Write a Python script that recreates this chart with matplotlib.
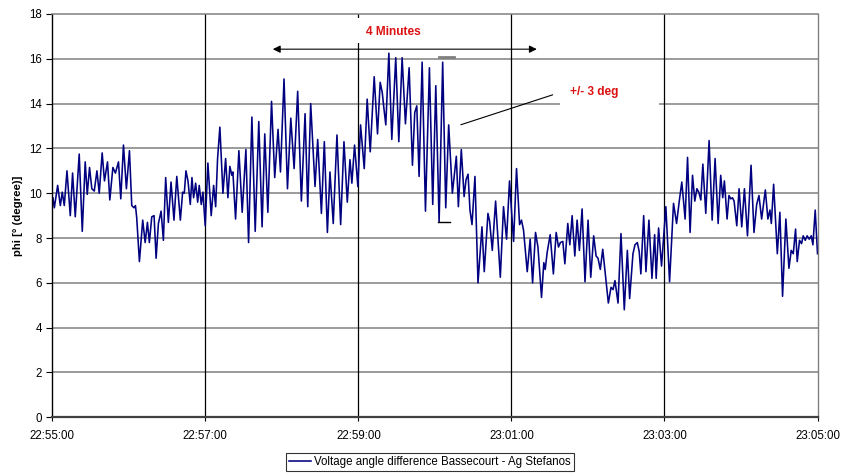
import matplotlib
matplotlib.use("Agg")
import matplotlib.pyplot as plt
from matplotlib.patches import Rectangle

plt.rcParams['font.family'] = ['Liberation Sans', 'DejaVu Sans']

# seconds after 22:55:00 and phase angle difference in degrees
t_sec = [0.5, 1.6, 4.2, 6.3, 7.8, 9.4, 11.5, 14.1, 15.9, 18.0, 21.1, 23.5, 25.8, 27.4, 29.2, 31.0,
         32.9, 35.0, 36.8, 39.1, 40.9, 43.3, 45.1, 47.5, 49.5, 51.9, 53.7, 55.8, 58.1, 60.5, 62.3,
         64.1, 65.2, 66.2, 68.3, 70.9, 72.8, 74.6, 76.1, 78.0, 79.8, 81.4, 83.2, 85.3, 87.1, 88.9,
         91.0, 93.1, 95.4, 97.6, 100.4, 102.2, 103.5, 104.8, 106.4, 108.2, 109.5, 110.8, 112.4,
         114.0, 115.2, 116.8, 118.1, 119.9, 122.0, 124.6, 126.5, 128.1, 129.6, 131.4, 133.8,
         135.9, 137.7, 139.2, 140.8, 141.6, 143.7, 146.3, 148.9, 151.8, 153.9, 156.5, 159.1,
         161.9, 164.5, 166.6, 169.0, 171.9, 174.4, 177.0, 178.9, 181.7, 184.4, 187.0, 189.6,
         192.4, 195.3, 198.2, 200.3, 202.6, 206.0, 208.1, 211.0, 213.3, 215.7, 217.7, 220.3,
         223.2, 226.1, 228.7, 231.3, 233.4, 234.9, 237.0, 239.6, 241.7, 244.6, 246.9, 249.3,
         252.4, 255.0, 257.1, 258.7, 260.0, 261.5, 263.9, 266.2, 269.3, 271.7, 274.3, 276.9,
         279.8, 282.4, 284.2, 285.8, 287.6, 290.0, 292.6, 295.7, 298.3, 300.7, 303.3, 306.1,
         308.5, 310.8, 313.7, 316.8, 318.4, 320.7, 322.9, 324.4, 326.0, 327.5, 329.1, 331.4,
         333.8, 336.9, 338.7, 341.6, 342.9, 345.0, 347.6, 351.3, 353.8, 356.2, 358.5, 361.7,
         364.0, 366.4, 367.9, 369.5, 372.4, 374.7, 376.6, 378.9, 380.8, 383.6, 385.4, 386.5,
         388.0, 390.4, 392.9, 395.1, 396.9, 398.4, 400.3, 401.9, 404.2, 405.8, 407.6, 409.7,
         411.5, 413.3, 415.4, 417.7, 420.1, 422.2, 424.5, 426.4, 427.9, 429.7, 431.6, 433.4,
         436.0, 438.1, 439.7, 441.2, 443.6, 445.9, 448.5, 450.9, 452.7, 455.3, 456.9, 458.7,
         460.2, 461.5, 463.7, 465.5, 467.8, 470.2, 472.3, 473.5, 475.4, 477.7, 481.1, 484.0,
         487.1, 489.5, 491.5, 493.6, 496.2, 498.1, 500.1, 502.0, 503.8, 505.4, 506.9, 508.5,
         510.1, 512.4, 515.0, 517.4, 519.7, 522.1, 524.1, 525.7, 527.0, 529.1, 530.6, 532.0,
         533.3, 534.6, 536.7, 538.5, 540.6, 542.7, 545.1, 547.9, 550.2, 552.3, 554.1, 556.2,
         559.1, 561.1, 562.7, 563.8, 565.6, 568.5, 570.5, 572.6, 575.2, 577.6, 579.4, 581.0,
         582.8, 584.1, 585.9, 587.5, 588.8, 590.4, 591.9, 593.5, 595.1, 596.4, 598.2, 600.0]

phi = [9.8, 9.35, 10.35, 9.45, 10.05, 9.45, 11.0, 9.0, 10.9, 8.95, 11.75, 8.3, 11.4, 9.95, 11.15, 10.2,
       10.1, 11.0, 10.0, 11.8, 10.55, 11.4, 9.7, 11.15, 10.9, 11.4, 9.75, 12.15, 10.2, 11.9, 9.45,
       9.35, 9.45, 8.9, 6.95, 8.8, 7.8, 8.7, 7.8, 8.95, 9.0, 7.1, 8.65, 9.2, 7.9, 10.7,
       8.7, 10.5, 8.8, 10.75, 8.8, 10.05, 10.0, 11.0, 10.55, 9.5, 10.7, 9.8, 10.45,
       9.6, 10.35, 9.5, 10.05, 8.55, 11.35, 9.0, 10.35, 9.4, 11.55, 12.95, 10.0,
       11.55, 9.8, 11.2, 10.8, 10.95, 8.85, 11.9, 9.15, 11.95, 7.8, 13.4, 8.3,
       13.2, 8.5, 12.65, 9.15, 14.1, 10.7, 12.85, 10.95, 15.1, 10.2, 13.35, 11.1,
       14.55, 9.65, 13.55, 9.4, 14.0, 10.3, 12.4, 9.1, 12.3, 8.25, 10.95, 8.65,
       12.6, 8.6, 12.3, 9.6, 11.5, 10.45, 12.15, 10.3, 13.05, 11.1, 14.2, 11.85,
       15.2, 12.65, 14.95, 14.5, 13.8, 13.05, 16.25, 12.4, 16.05, 12.3, 16.05, 13.1,
       15.6, 11.25, 13.6, 13.9, 10.75, 15.85, 9.2, 15.6, 9.5, 14.8, 8.7, 15.85,
       9.35, 13.05, 10.0, 11.65, 9.4, 11.95, 9.85, 10.6, 10.85, 9.25, 8.6, 10.75,
       6.0, 8.5, 6.5, 9.1, 8.75, 7.45, 9.65, 6.25, 9.4, 7.95, 10.55, 7.85,
       11.1, 8.6, 8.8, 8.35, 6.5, 7.95, 6.0, 8.25, 7.6, 5.35, 6.9, 6.6,
       7.35, 8.15, 6.4, 8.25, 7.6, 7.8, 7.85, 6.85, 8.65, 7.7, 9.0, 7.2,
       8.8, 7.45, 9.3, 6.05, 8.8, 6.25, 8.1, 7.2, 7.1, 6.6, 7.5, 6.5,
       5.1, 5.8, 5.7, 6.1, 5.1, 8.2, 4.8, 7.45, 5.3, 7.3, 7.7, 7.8,
       7.4, 6.4, 9.0, 6.5, 8.8, 6.2, 8.15, 6.2, 8.45, 6.75, 9.4, 6.05,
       9.55, 8.65, 9.6, 10.5, 8.85, 11.6, 8.25, 10.8, 9.65, 10.2, 10.05, 9.7,
       11.3, 9.1, 12.35, 8.8, 11.55, 8.65, 10.8, 9.8, 10.55, 8.85, 9.9, 9.75,
       9.8, 9.65, 8.55, 10.2, 8.5, 10.2, 8.1, 11.25, 8.25, 9.5, 9.9, 8.85,
       10.15, 8.85, 9.25, 8.65, 10.4, 7.3, 9.15, 5.4, 8.85, 6.65, 7.45, 7.3,
       8.4, 6.95, 7.9, 7.75, 8.1, 7.9, 8.1, 7.95, 8.1, 7.7, 9.25, 7.3]

tick_sec = [0, 120, 240, 360, 480, 600]
tick_labels = ["22:55:00", "22:57:00", "22:59:00", "23:01:00", "23:03:00", "23:05:00"]
y_ticks = [0, 2, 4, 6, 8, 10, 12, 14, 16, 18]
series_name = "Voltage angle difference Bassecourt - Ag Stefanos"

fig = plt.figure(figsize=(8.42, 4.73), dpi=100)
ax = fig.add_axes([52.3 / 842, 1 - 417.3 / 473, (817.5 - 52.3) / 842, (417.3 - 14) / 473])

ax.set_xlim(0, 600)
ax.set_ylim(0, 18)

# grid: grey horizontal, black vertical
for yv in y_ticks[1:-1]:
    ax.axhline(yv, color='#808080', lw=1.1, zorder=0)
for xv in tick_sec[1:-1]:
    ax.axvline(xv, color='black', lw=0.9, zorder=0)

# white boxes behind the annotation texts
ax.add_patch(Rectangle((237.4, 16.71), 58.8, 1.12, facecolor='white', edgecolor='none', zorder=1))
ax.add_patch(Rectangle((398.2, 13.73), 77.7, 1.33, facecolor='white', edgecolor='none', zorder=1))

line, = ax.plot(t_sec, phi, color='#000080', lw=1.15, zorder=2, label=series_name)

# annotations
red = '#DD1111'
ax.text(267.2, 17.19, "4 Minutes", color=red, fontsize=8.6, fontweight='bold',
        ha='center', va='center', zorder=4)
ax.annotate("", xy=(172.9, 16.43), xytext=(379.9, 16.43),
            arrowprops=dict(arrowstyle='<|-|>', color='black', lw=0.8,
                            mutation_scale=11, shrinkA=0, shrinkB=0), zorder=4)
ax.text(425.0, 14.50, "+/- 3 deg", color=red, fontsize=8.6, fontweight='bold',
        ha='center', va='center', zorder=4)
ax.plot([320.5, 392.2], [13.06, 14.39], color='black', lw=0.8, zorder=3)
ax.plot([303.3, 315.1], [16.09, 16.09], color='#808080', lw=2.0, zorder=3)
ax.plot([302.3, 311.9], [8.70, 8.70], color='black', lw=1.0, zorder=3)

# axes styling
ax.spines['left'].set_color('black')
ax.spines['left'].set_linewidth(1.0)
ax.spines['bottom'].set_color('#404040')
ax.spines['bottom'].set_linewidth(1.6)
ax.spines['right'].set_color('#808080')
ax.spines['right'].set_linewidth(1.0)
ax.spines['top'].set_color('#808080')
ax.spines['top'].set_linewidth(1.1)

ax.set_yticks(y_ticks)
ax.set_yticklabels([str(v) for v in y_ticks])
ax.set_xticks(tick_sec)
ax.set_xticklabels(tick_labels)
ax.tick_params(axis='y', direction='out', length=4, width=0.8, pad=3.5, labelsize=8.3)
ax.tick_params(axis='x', direction='out', length=3, width=0.8, pad=6, labelsize=8.3)

ax.set_ylabel("phi [° (degree)]", fontsize=8.2, fontweight='bold', labelpad=4)

leg = fig.legend(handles=[line], loc='center', bbox_to_anchor=(430 / 842, 1 - 462 / 473),
                 fontsize=8.3, frameon=True, fancybox=False, handlelength=1.9,
                 handletextpad=0.3, borderpad=0.25)
leg.get_frame().set_edgecolor('black')
leg.get_frame().set_linewidth(0.8)

fig.savefig("out.png", dpi=100)
